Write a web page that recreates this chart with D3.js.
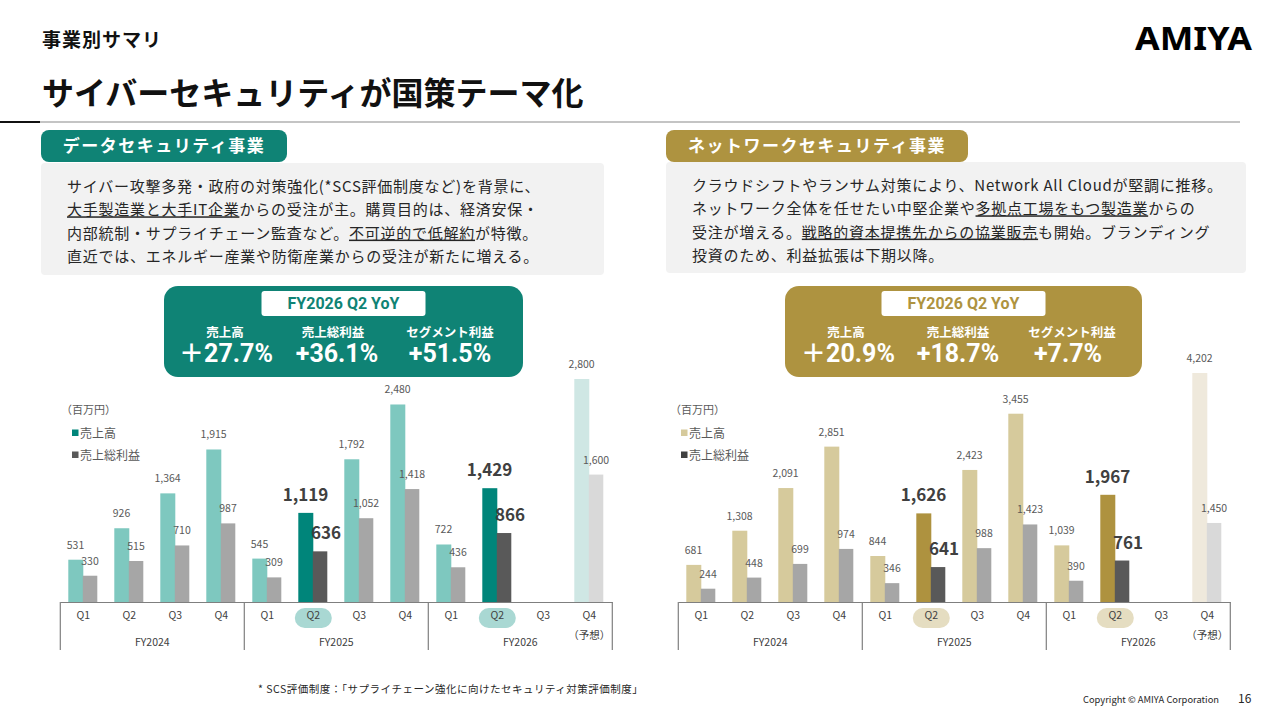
<!DOCTYPE html>
<html><head><meta charset="utf-8">
<script src="https://cdn.jsdelivr.net/npm/d3@7"></script>
<style>
body{margin:0;background:#fff}
svg{display:block}
text{font-family:"Noto Sans CJK JP","Noto Sans",sans-serif}
</style>
</head><body>
<svg id="c" width="1280" height="720"></svg>
<script>
// ---------- data ----------
const quarters = ["Q1","Q2","Q3","Q4","Q1","Q2","Q3","Q4","Q1","Q2","Q3","Q4"];
const fiscalYears = ["FY2024","FY2025","FY2026"];
const dataSales  = [531, 926, 1364, 1915, 545, 1119, 1792, 2480, 722, 1429, null, 2800];
const dataProfit = [330, 515, 710, 987, 309, 636, 1052, 1418, 436, 866, null, 1600];
const netSales   = [681, 1308, 2091, 2851, 844, 1626, 2423, 3455, 1039, 1967, null, 4202];
const netProfit  = [244, 448, 699, 974, 346, 641, 988, 1423, 390, 761, null, 1450];
const highlightIdx = [5, 9];
const forecastIdx = [11];
const forecastNote = "（予想）";
const unitLabel = "（百万円）";
const legendLabels = ["売上高", "売上総利益"];
const yoyTitle = "FY2026 Q2 YoY";
const yoyLabels = ["売上高", "売上総利益", "セグメント利益"];
const dataYoY = ["＋27.7%", "+36.1%", "+51.5%"];
const netYoY  = ["＋20.9%", "+18.7%", "+7.7%"];
const dataTitle = "データセキュリティ事業";
const netTitle = "ネットワークセキュリティ事業";
const dataText = [
  [["サイバー攻撃多発・政府の対策強化(*SCS評価制度など)を背景に、", false]],
  [["大手製造業と大手IT企業", true], ["からの受注が主。購買目的は、経済安保・", false]],
  [["内部統制・サプライチェーン監査など。", false], ["不可逆的で低解約", true], ["が特徴。", false]],
  [["直近では、エネルギー産業や防衛産業からの受注が新たに増える。", false]]
];
const netText = [
  [["クラウドシフトやランサム対策により、Network All Cloudが堅調に推移。", false]],
  [["ネットワーク全体を任せたい中堅企業や", false], ["多拠点工場をもつ製造業", true], ["からの", false]],
  [["受注が増える。", false], ["戦略的資本提携先からの協業販売", true], ["も開始。ブランディング", false]],
  [["投資のため、利益拡張は下期以降。", false]]
];

// ---------- page ----------
const svg = d3.select("#c");
const TEAL = "#0f8375", GOLD = "#ae9340";

svg.append("text").attr("x", 42).attr("y", 47).attr("font-size", 19).attr("font-weight", 700)
  .attr("letter-spacing", 1).attr("fill", "#111").text("事業別サマリ");
svg.append("text").attr("x", 42).attr("y", 105).attr("font-size", 32).attr("font-weight", 700)
  .attr("fill", "#111").text("サイバーセキュリティが国策テーマ化");
svg.append("text").attr("x", 1135).attr("y", 50).attr("font-size", 32).attr("font-weight", 700)
  .attr("textLength", 117).attr("lengthAdjust", "spacingAndGlyphs")
  .style("font-family", "'Noto Sans',sans-serif").attr("fill", "#000").text("AMIYA");
svg.append("line").attr("x1", 40).attr("x2", 1240).attr("y1", 122).attr("y2", 122)
  .attr("stroke", "#c4c4c4").attr("stroke-width", 2);
svg.append("line").attr("x1", 0).attr("x2", 40).attr("y1", 122).attr("y2", 122)
  .attr("stroke", "#111").attr("stroke-width", 2);

function section(cfg) {
  const g = svg.append("g");
  g.append("rect").attr("x", cfg.boxX).attr("y", cfg.boxY).attr("width", cfg.boxW).attr("height", cfg.boxH)
    .attr("rx", 4).attr("fill", "#f2f2f2");
  g.append("rect").attr("x", cfg.boxX).attr("y", 130).attr("width", cfg.tabW).attr("height", 32)
    .attr("rx", 8).attr("fill", cfg.color);
  g.append("text").attr("x", cfg.boxX + cfg.tabW / 2).attr("y", 152).attr("text-anchor", "middle")
    .attr("font-size", 17).attr("font-weight", 700).attr("letter-spacing", 1.5).attr("fill", "#fff")
    .text(cfg.title);
  cfg.lines.forEach((segs, li) => {
    const t = g.append("text").attr("x", cfg.boxX + 26).attr("y", cfg.textY + li * 23.3)
      .attr("font-size", 15).attr("letter-spacing", 0.75).attr("fill", "#262626");
    segs.forEach(([s, u]) => {
      const ts = t.append("tspan").text(s);
      if (u) ts.style("text-decoration", "underline");
    });
  });
  g.append("rect").attr("x", cfg.yoyX).attr("y", 286).attr("width", cfg.yoyW).attr("height", 91)
    .attr("rx", 14).attr("fill", cfg.color);
  const cx = cfg.yoyX + cfg.yoyW / 2;
  g.append("rect").attr("x", cx - 82).attr("y", 291).attr("width", 164).attr("height", 25)
    .attr("rx", 3).attr("fill", "#fff");
  g.append("text").attr("x", cx).attr("y", 309).attr("text-anchor", "middle")
    .attr("font-size", 16).attr("font-weight", 700).style("font-family", "Roboto,sans-serif")
    .attr("fill", cfg.color).text(yoyTitle);
  cfg.yoyCols.forEach((x, k) => {
    g.append("text").attr("x", x).attr("y", 337).attr("text-anchor", "middle")
      .attr("font-size", 12.5).attr("font-weight", 700).attr("fill", "#fff").text(yoyLabels[k]);
    g.append("text").attr("x", x + cfg.valDx[k]).attr("y", 362).attr("text-anchor", "middle")
      .attr("font-size", 25).attr("font-weight", 700)
      .style("font-family", "Roboto,'Noto Sans CJK JP',sans-serif")
      .attr("fill", "#fff").text(cfg.yoy[k]);
  });
}

section({boxX: 41, boxY: 163, boxW: 563, boxH: 112, tabW: 246, color: TEAL, title: dataTitle,
  lines: dataText, textY: 192, yoyX: 164, yoyW: 359, yoyCols: [225, 333, 450], valDx: [1, 4, 0], yoy: dataYoY});
section({boxX: 666, boxY: 162, boxW: 580, boxH: 111, tabW: 302, color: GOLD, title: netTitle,
  lines: netText, textY: 191, yoyX: 785, yoyW: 357, yoyCols: [846, 958, 1072], valDx: [2, 0, -4], yoy: netYoY});

// ---------- charts ----------
function chart(cfg) {
  const g = svg.append("g");
  const x = d3.scaleBand().domain(d3.range(quarters.length)).range(cfg.xRange).padding(0);
  const y = d3.scaleLinear().domain([0, cfg.yMax]).range([602, cfg.yTop]);
  const bw = 14.5, bwBand = x.bandwidth();
  const fmt = d3.format(",");
  const isHi = i => highlightIdx.includes(i);
  const isFc = i => forecastIdx.includes(i);
  const idx = d3.range(quarters.length).filter(i => cfg.sales[i] != null);

  // legend
  g.append("text").attr("x", cfg.legX - 11).attr("y", 414).attr("font-size", 11)
    .attr("fill", "#595959").text(unitLabel);
  [[cfg.legendSales, 0], [cfg.legendProfit, 1]].forEach(([c, k]) => {
    const yy = 433 + k * 22;
    g.append("rect").attr("x", cfg.legX).attr("y", yy - 3.5).attr("width", 6.5).attr("height", 6.5)
      .attr("fill", c);
    g.append("text").attr("x", cfg.legX + 8).attr("y", yy + 4.5).attr("font-size", 12)
      .attr("fill", "#595959").text(legendLabels[k]);
  });

  const salesColor = i => isHi(i) ? cfg.hiSales : isFc(i) ? cfg.fcSales : cfg.sales0;
  const profitColor = i => isHi(i) ? "#595959" : isFc(i) ? "#d9d9d9" : "#a6a6a6";
  g.selectAll(".s").data(idx).join("rect")
    .attr("x", i => x(i) + 8).attr("width", bw + 0.5)
    .attr("y", i => y(cfg.sales[i])).attr("height", i => 602 - y(cfg.sales[i]))
    .attr("fill", salesColor);
  g.selectAll(".p").data(idx).join("rect")
    .attr("x", i => x(i) + 8 + bw).attr("width", bw)
    .attr("y", i => y(cfg.profit[i])).attr("height", i => 602 - y(cfg.profit[i]))
    .attr("fill", profitColor);

  const lab = (i, v, bx, dxHi) => {
    const hi = isHi(i);
    g.append("text").attr("x", bx + bw / 2 + (hi ? dxHi : 0)).attr("y", y(v) - (hi ? 12 : 11))
      .attr("text-anchor", "middle")
      .attr("font-size", hi ? 17 : 10.5).attr("font-weight", hi ? 700 : 400)
      .attr("fill", hi ? "#404040" : "#595959").text(fmt(v));
  };
  idx.forEach(i => {
    lab(i, cfg.sales[i], x(i) + 8, 0);
    lab(i, cfg.profit[i], x(i) + 8 + bw, 6);
  });

  highlightIdx.forEach(i => {
    g.append("rect").attr("x", x(i) + bwBand / 2 - 18.5).attr("y", 608).attr("width", 37).attr("height", 20)
      .attr("rx", 10).attr("fill", cfg.pill);
  });

  const ax = g.append("g").attr("transform", "translate(0,602)")
    .call(d3.axisBottom(x).tickSize(0).tickPadding(10).tickFormat(i => quarters[i]));
  ax.select(".domain").attr("stroke", "#7f7f7f").attr("stroke-width", 1.2);
  ax.selectAll("text").attr("font-size", 10.5).attr("fill", "#404040")
    .style("font-family", "'Noto Sans CJK JP',sans-serif");
  const seps = [0, 4, 8].map(i => x(i)).concat([cfg.xRange[1]]);
  g.selectAll(".sep").data(seps).join("line")
    .attr("x1", d => d).attr("x2", d => d).attr("y1", 602).attr("y2", 650)
    .attr("stroke", "#7f7f7f").attr("stroke-width", 1.2);
  fiscalYears.forEach((fy, k) => {
    const cxg = (x(k * 4) + x(k * 4 + 3) + bwBand) / 2;
    g.append("text").attr("x", cxg).attr("y", 645.5).attr("text-anchor", "middle")
      .attr("font-size", 10.5).attr("fill", "#404040").text(fy);
  });
  forecastIdx.forEach(i => {
    g.append("text").attr("x", x(i) + bwBand / 2).attr("y", 639).attr("text-anchor", "middle")
      .attr("font-size", 10.5).attr("fill", "#404040").text(forecastNote);
  });
}

chart({xRange: [60.3, 612.3], yMax: 2800, yTop: 379, sales: dataSales, profit: dataProfit, legX: 72,
  sales0: "#7ec8bf", hiSales: "#00857a", fcSales: "#cfe7e4", pill: "#a9d8d3",
  legendSales: "#00857a", legendProfit: "#595959"});
chart({xRange: [678.3, 1230.3], yMax: 4202, yTop: 373, sales: netSales, profit: netProfit, legX: 681,
  sales0: "#d6ca9c", hiSales: "#ae923f", fcSales: "#efe9dc", pill: "#e5ddc1",
  legendSales: "#d6ca9c", legendProfit: "#404040"});

// ---------- footer ----------
svg.append("text").attr("x", 258).attr("y", 693).attr("font-size", 10.5).attr("letter-spacing", 0.5)
  .attr("fill", "#262626")
  .text("* SCS評価制度：「サプライチェーン強化に向けたセキュリティ対策評価制度」");
svg.append("text").attr("x", 1083).attr("y", 703).attr("font-size", 9).attr("fill", "#262626")
  .attr("textLength", 136).attr("lengthAdjust", "spacingAndGlyphs")
  .text("Copyright © AMIYA Corporation");
svg.append("text").attr("x", 1238).attr("y", 703).attr("font-size", 12).attr("fill", "#262626")
  .text("16");
</script>
</body></html>
